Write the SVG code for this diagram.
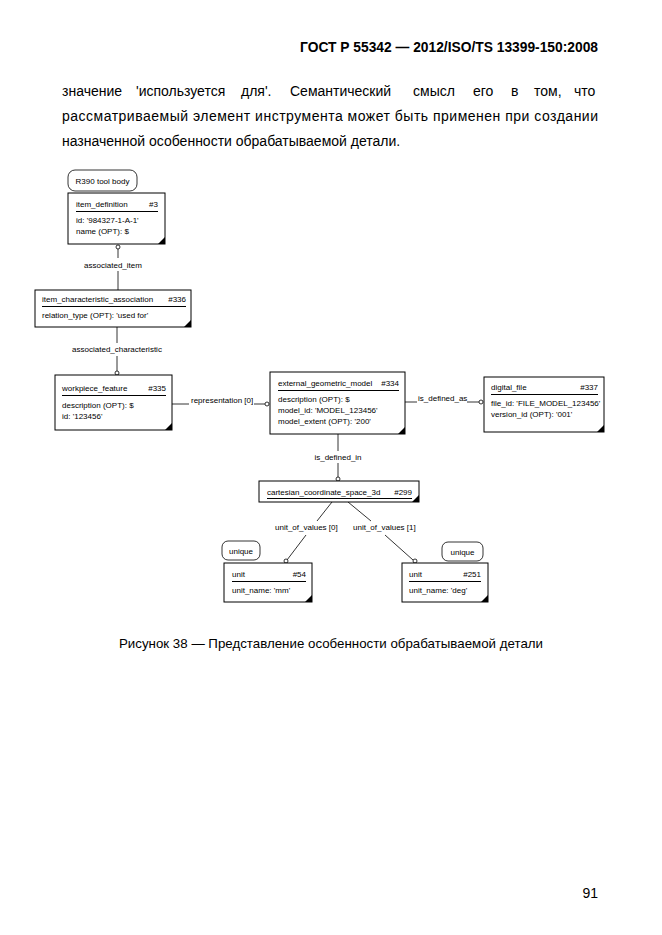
<svg xmlns="http://www.w3.org/2000/svg" width="662" height="935" viewBox="0 0 662 935">
<style>
.pg{font-family:"Liberation Sans",Arial,sans-serif;font-size:14px;fill:#000}
.cap{font-family:"Liberation Sans",Arial,sans-serif;font-size:13.3px;fill:#000}
.hdr{font-family:"Liberation Sans",Arial,sans-serif;font-size:13.8px;font-weight:bold;fill:#000}
.t{font-family:"Liberation Sans",Arial,sans-serif;font-size:8px;fill:#000}
.box{fill:#fff;stroke:#000;stroke-width:1}
.rbox{fill:#fff;stroke:#000;stroke-width:0.8}
.ul{stroke:#000;stroke-width:1}
.ln{stroke:#000;stroke-width:0.8;fill:none}
.end{fill:#fff;stroke:#000;stroke-width:0.8}
.c{text-anchor:middle}
.r{text-anchor:end}
</style>
<defs>
<polygon id="tri" points="0,0 -7,0 0,-7" fill="#000"/>
</defs>
<rect width="662" height="935" fill="#fff"/>
<text class="hdr" x="598" y="52" text-anchor="end">ГОСТ Р 55342 — 2012/ISO/TS 13399-150:2008</text>
<text class="pg" y="96"><tspan x="62">значение</tspan><tspan x="136">'используется</tspan><tspan x="241">для'.</tspan><tspan x="290">Семантический</tspan><tspan x="413">смысл</tspan><tspan x="473">его</tspan><tspan x="511">в</tspan><tspan x="534">том,</tspan><tspan x="574">что</tspan></text>
<text class="pg" x="62" y="121" textLength="536" lengthAdjust="spacing">рассматриваемый элемент инструмента может быть применен при создании</text>
<text class="pg" x="62" y="146">назначенной особенности обрабатываемой детали.</text>

<g id="connectors">
<line class="ln" x1="118" y1="249" x2="118" y2="258"/>
<line class="ln" x1="118" y1="271" x2="118" y2="290"/>
<circle class="end" cx="118" cy="247" r="2"/>
<text class="t c" x="113" y="268">associated_item</text>

<line class="ln" x1="117" y1="327" x2="117" y2="343"/>
<line class="ln" x1="117" y1="356" x2="117" y2="371"/>
<circle class="end" cx="117" cy="373" r="2"/>
<text class="t c" x="117" y="352">associated_characteristic</text>

<line class="ln" x1="172" y1="404" x2="189" y2="404"/>
<line class="ln" x1="254" y1="404" x2="265" y2="404"/>
<circle class="end" cx="267" cy="404" r="2"/>
<text class="t" x="191" y="403">representation [0]</text>

<line class="ln" x1="405" y1="402" x2="417" y2="402"/>
<line class="ln" x1="467" y1="402" x2="479" y2="402"/>
<circle class="end" cx="481" cy="402" r="2"/>
<text class="t" x="418" y="401">is_defined_as</text>

<line class="ln" x1="338" y1="434" x2="338" y2="451"/>
<line class="ln" x1="338" y1="463" x2="338" y2="477"/>
<circle class="end" cx="338" cy="479" r="2"/>
<text class="t c" x="338" y="460">is_defined_in</text>

<line class="ln" x1="332" y1="502" x2="317" y2="521"/>
<line class="ln" x1="306" y1="535" x2="287" y2="560"/>
<circle class="end" cx="286" cy="561" r="2"/>
<text class="t" x="275" y="530">unit_of_values [0]</text>

<line class="ln" x1="348" y1="502" x2="371" y2="521"/>
<line class="ln" x1="385" y1="535" x2="413" y2="560"/>
<circle class="end" cx="415" cy="561" r="2"/>
<text class="t" x="353" y="530">unit_of_values [1]</text>
</g>

<g id="r390">
<rect class="rbox" x="68" y="170" width="69" height="21" rx="7"/>
<text class="t c" x="102.5" y="184">R390 tool body</text>
</g>

<g id="item_definition">
<rect class="box" x="68" y="193" width="97" height="51"/>
<text class="t" x="76" y="207">item_definition</text>
<text class="t r" x="158" y="207">#3</text>
<line class="ul" x1="76" y1="211.5" x2="158" y2="211.5"/>
<text class="t" x="76" y="223">id: '984327-1-A-1'</text>
<text class="t" x="76" y="234">name (OPT): $</text>
<use href="#tri" x="165" y="244"/>
</g>

<g id="item_characteristic_association">
<rect class="box" x="35" y="290" width="156" height="37"/>
<text class="t" x="42" y="302">item_characteristic_association</text>
<text class="t r" x="186" y="302">#336</text>
<line class="ul" x1="42" y1="306.5" x2="186" y2="306.5"/>
<text class="t" x="42" y="318">relation_type (OPT): 'used for'</text>
<use href="#tri" x="191" y="327"/>
</g>

<g id="workpiece_feature">
<rect class="box" x="55" y="375" width="117" height="55"/>
<text class="t" x="62" y="391">workpiece_feature</text>
<text class="t r" x="166" y="391">#335</text>
<line class="ul" x1="62" y1="395.5" x2="166" y2="395.5"/>
<text class="t" x="62" y="408">description (OPT): $</text>
<text class="t" x="62" y="419">id: '123456'</text>
<use href="#tri" x="172" y="430"/>
</g>

<g id="external_geometric_model">
<rect class="box" x="270" y="372" width="135" height="62"/>
<text class="t" x="278" y="386">external_geometric_model</text>
<text class="t r" x="399" y="386">#334</text>
<line class="ul" x1="278" y1="390.5" x2="399" y2="390.5"/>
<text class="t" x="278" y="402">description (OPT): $</text>
<text class="t" x="278" y="413">model_id: 'MODEL_123456'</text>
<text class="t" x="278" y="424">model_extent (OPT): '200'</text>
<use href="#tri" x="405" y="434"/>
</g>

<g id="digital_file">
<rect class="box" x="484" y="377" width="120" height="55"/>
<text class="t" x="491" y="390">digital_file</text>
<text class="t r" x="598" y="390">#337</text>
<line class="ul" x1="491" y1="394.5" x2="598" y2="394.5"/>
<text class="t" x="491" y="406">file_id: 'FILE_MODEL_123456'</text>
<text class="t" x="491" y="417">version_id (OPT): '001'</text>
<use href="#tri" x="604" y="432"/>
</g>

<g id="cartesian_coordinate_space_3d">
<rect class="box" x="259" y="481" width="160" height="21"/>
<text class="t" x="267" y="495">cartesian_coordinate_space_3d</text>
<text class="t r" x="412" y="495">#299</text>
<line class="ul" x1="267" y1="498.5" x2="412" y2="498.5"/>
<use href="#tri" x="419" y="502"/>
</g>

<g id="unique_left">
<rect class="rbox" x="222" y="541" width="38" height="19" rx="6"/>
<text class="t c" x="241" y="554">unique</text>
</g>

<g id="unit_54">
<rect class="box" x="224" y="563" width="88" height="39"/>
<text class="t" x="232" y="577">unit</text>
<text class="t r" x="306" y="577">#54</text>
<line class="ul" x1="232" y1="581.5" x2="306" y2="581.5"/>
<text class="t" x="232" y="593">unit_name: 'mm'</text>
<use href="#tri" x="312" y="602"/>
</g>

<g id="unique_right">
<rect class="rbox" x="442" y="542" width="41" height="19" rx="6"/>
<text class="t c" x="462.5" y="555">unique</text>
</g>

<g id="unit_251">
<rect class="box" x="402" y="563" width="86" height="39"/>
<text class="t" x="409" y="577">unit</text>
<text class="t r" x="481" y="577">#251</text>
<line class="ul" x1="409" y1="581.5" x2="481" y2="581.5"/>
<text class="t" x="409" y="593">unit_name: 'deg'</text>
<use href="#tri" x="488" y="602"/>
</g>

<text class="cap" x="119" y="648" textLength="424" lengthAdjust="spacing">Рисунок 38 — Представление особенности обрабатываемой детали</text>
<text class="pg" x="598" y="898" text-anchor="end">91</text>
</svg>
